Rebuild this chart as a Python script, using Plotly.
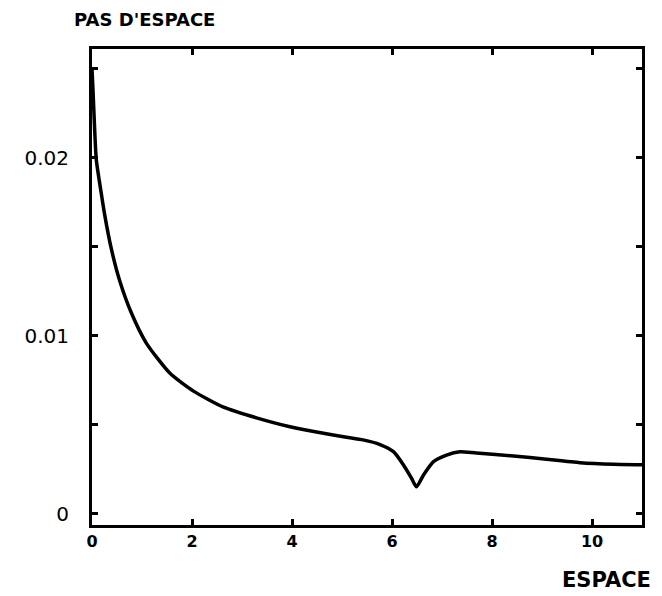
import plotly.graph_objects as go

# Data
espace = [0.0, 0.02, 0.05, 0.086, 0.186, 0.254, 0.386, 0.554, 0.786, 1.086,
          1.56, 2.03, 2.63, 3.29, 3.96, 4.63, 5.09, 5.42, 5.76, 6.03,
          6.23, 6.39, 6.49, 6.63, 6.83, 7.09, 7.36, 7.69, 8.43, 9.09,
          9.76, 10.43, 11.0]
pas = [0.0250, 0.0238, 0.0218, 0.0199, 0.0180, 0.0168, 0.0149, 0.0131, 0.0113, 0.0096,
       0.0079, 0.0069, 0.0060, 0.0054, 0.0049, 0.00453, 0.00431, 0.00416, 0.00390, 0.00350,
       0.00275, 0.00201, 0.00153, 0.00219, 0.00294, 0.00331, 0.00350, 0.00342, 0.00326, 0.00307,
       0.00288, 0.00279, 0.00276]

x_tickvals = [0, 2, 4, 6, 8, 10]
x_ticktext = ["0", "2", "4", "6", "8", "10"]
y_tickvals = [0, 0.005, 0.01, 0.015, 0.02, 0.025]
y_ticktext = ["0", "", "0.01", "", "0.02", ""]

fig = go.Figure()
fig.add_trace(go.Scatter(x=espace, y=pas, mode="lines",
                         line=dict(color="black", width=3.5, shape="spline", smoothing=0.6),
                         showlegend=False))

fig.update_layout(
    width=654, height=588,
    margin=dict(l=84, r=20, t=41, b=71),
    paper_bgcolor="white", plot_bgcolor="white",
    font=dict(family="DejaVu Sans", color="black"),
)
fig.update_xaxes(
    range=[0, 11], tickvals=x_tickvals, ticktext=x_ticktext,
    showgrid=False, zeroline=False, showline=True, linewidth=3, linecolor="black",
    mirror="ticks", ticks="inside", ticklen=6, tickwidth=2.5, tickcolor="black",
    tickfont=dict(size=16, weight="bold"),
)
fig.update_yaxes(
    range=[-0.00062, 0.02612], tickvals=y_tickvals, ticktext=y_ticktext,
    showgrid=False, zeroline=False, showline=True, linewidth=3, linecolor="black",
    mirror="ticks", ticks="inside", ticklen=6, tickwidth=2.5, tickcolor="black",
    tickfont=dict(size=20), ticklabelstandoff=16,
)
fig.add_annotation(text="PAS D'ESPACE", xref="paper", yref="paper",
                   x=0.096, y=1.063, xanchor="center", yanchor="middle",
                   showarrow=False, font=dict(size=18, weight="bold"))
fig.add_annotation(text="ESPACE", xref="paper", yref="paper",
                   x=0.936, y=-0.1155, xanchor="center", yanchor="middle",
                   showarrow=False, font=dict(size=21, weight="bold"))

fig.write_html("out.html")
